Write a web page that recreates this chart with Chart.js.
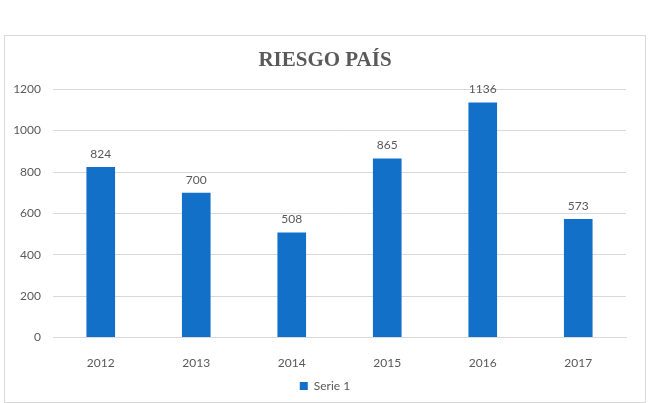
<!DOCTYPE html>
<html>
<head>
<meta charset="utf-8">
<script src="https://cdn.jsdelivr.net/npm/chart.js@4.4.0/dist/chart.umd.min.js"></script>
<style>
  body { margin: 0; background: #fff; }
  #box { position: absolute; left: 4px; top: 35px; width: 640px; height: 366px; border: 1px solid #d9d9d9; }
  canvas { display: block; }
</style>
</head>
<body>
<div id="box"><canvas id="chart" width="640" height="366"></canvas></div>
<script>
// data
const years = ['2012', '2013', '2014', '2015', '2016', '2017'];
const riesgo = [824, 700, 508, 865, 1136, 573];
const yTicks = [0, 200, 400, 600, 800, 1000, 1200];

const textGrey = '#595959';
const barBlue = '#1370c8';
const sans = 'Lato, "Open Sans", sans-serif';

// draws the value over each bar
const valueLabels = {
  id: 'valueLabels',
  afterDatasetsDraw(chart) {
    const ctx = chart.ctx;
    const meta = chart.getDatasetMeta(0);
    ctx.save();
    ctx.font = '12px ' + sans;
    ctx.fillStyle = textGrey;
    ctx.textAlign = 'center';
    ctx.textBaseline = 'bottom';
    meta.data.forEach((bar, i) => {
      ctx.fillText(riesgo[i], bar.x, bar.y - 7);
    });
    ctx.restore();
  }
};

new Chart(document.getElementById('chart'), {
  type: 'bar',
  data: {
    labels: years,
    datasets: [{
      label: 'Serie 1',
      data: riesgo,
      backgroundColor: barBlue,
      borderWidth: 0,
      barPercentage: 0.5,
      categoryPercentage: 0.6
    }]
  },
  options: {
    responsive: false,
    animation: false,
    layout: { padding: 0 },
    plugins: {
      title: {
        display: true,
        text: 'RIESGO PAÍS',
        color: textGrey,
        font: { family: '"Liberation Serif", "Times New Roman", serif', size: 21, weight: 'bold' },
        padding: { top: 12, bottom: 16 }
      },
      legend: {
        position: 'bottom',
        labels: {
          color: textGrey,
          font: { family: sans, size: 12 },
          boxWidth: 8,
          boxHeight: 8,
          padding: 0
        }
      },
      tooltip: { enabled: false }
    },
    scales: {
      x: {
        grid: { display: false },
        border: { display: true, color: '#d9d9d9' },
        ticks: { color: textGrey, font: { family: sans, size: 12 }, padding: 10 }
      },
      y: {
        min: 0,
        max: 1200,
        afterBuildTicks(axis) { axis.ticks = yTicks.map(v => ({ value: v })); },
        afterFit(axis) { axis.width = 48; },
        grid: { color: '#d9d9d9', drawTicks: false },
        border: { display: false },
        ticks: {
          color: textGrey,
          font: { family: sans, size: 12 },
          padding: 12,
          callback: v => String(v)
        }
      },
      // empty axis that only keeps space on the right
      yRight: {
        position: 'right',
        afterFit(axis) { axis.width = 19; },
        grid: { display: false },
        border: { display: false },
        ticks: { display: false }
      }
    }
  },
  plugins: [valueLabels]
});
</script>
</body>
</html>
